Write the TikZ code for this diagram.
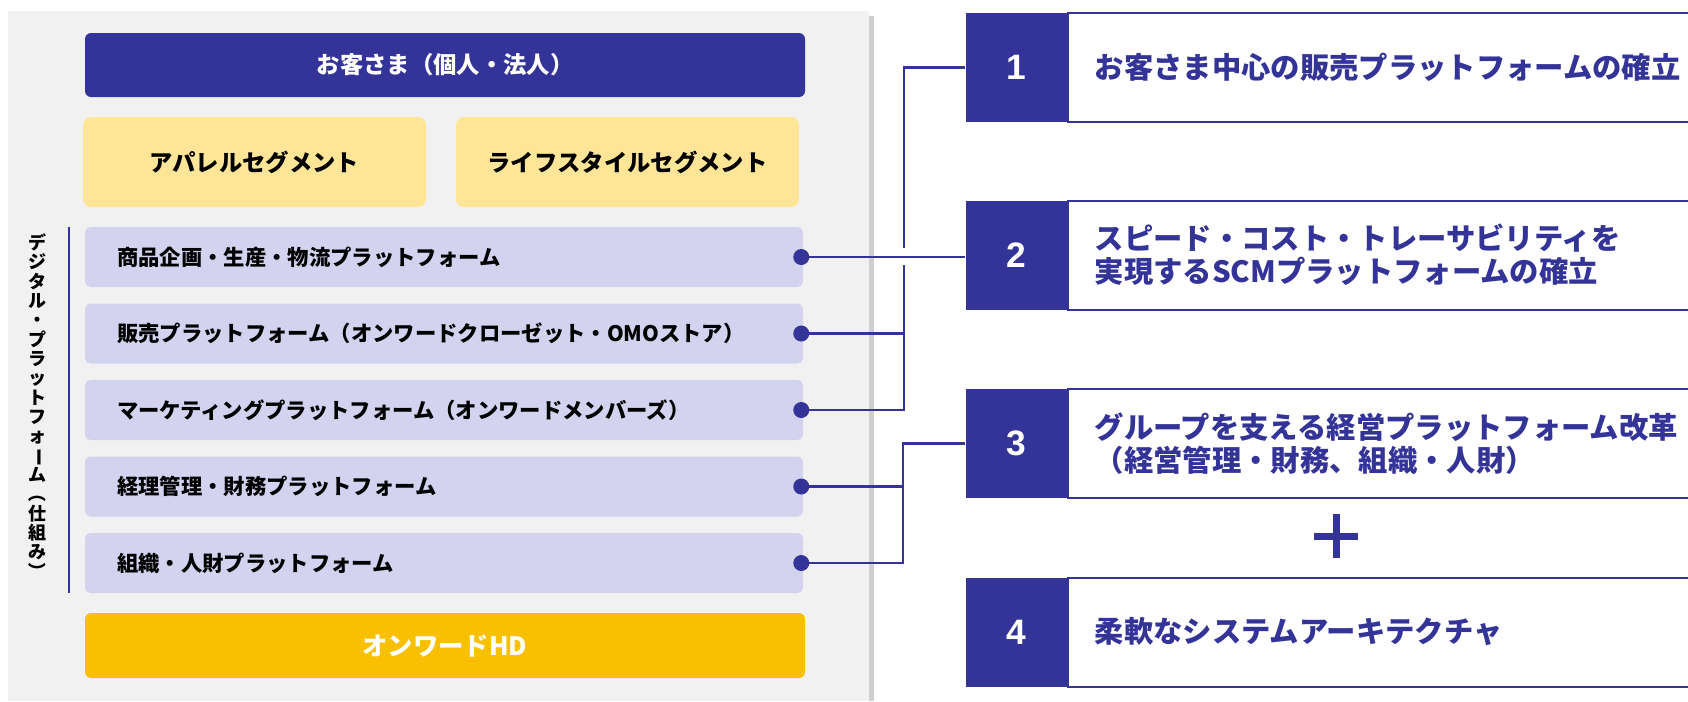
\documentclass[tikz,border=0pt]{standalone}
\usepackage{fontspec}
\setmainfont{Noto Sans CJK JP}
\newfontfamily\numfont{Liberation Sans}
\definecolor{navy}{RGB}{52,51,151}
\definecolor{lav}{RGB}{211,211,240}
\definecolor{paleyel}{RGB}{255,229,151}
\definecolor{gold}{RGB}{248,192,0}
\definecolor{panel}{RGB}{241,241,241}
\definecolor{stripe}{RGB}{207,207,207}
\tikzset{
  pf/.style={fill=lav, rounded corners=4pt, text width=490.5pt, inner xsep=24pt, inner ysep=0pt, minimum height=45pt, align=left, font=\fontsize{16}{18}\selectfont\bfseries},
  seg/.style={fill=paleyel, rounded corners=6pt, minimum width=257.25pt, minimum height=67.5pt, font=\fontsize{17.5}{20}\selectfont\bfseries},
  numbox/.style={fill=navy, text=white, minimum width=75.75pt, minimum height=81.75pt, inner sep=0pt, font=\numfont\fontsize{26.5}{30}\selectfont\bfseries},
  goal/.style={draw=navy, line width=1.5pt, minimum height=81.75pt, text width=480pt, inner xsep=20pt, align=left, text=navy, font=\fontsize{22}{25}\selectfont\bfseries},
  conn/.style={navy, line width=1.7pt},
}
\begin{document}
\begin{tikzpicture}[x=0.75pt,y=-0.75pt]
\useasboundingbox (0,0) rectangle (1688,701);
\fill[panel] (8,11) rectangle (869,701);
\fill[stripe] (869,16) rectangle (874,701);
\node[fill=navy, rounded corners=4.5pt, minimum width=540pt, minimum height=48pt, text=white, font=\fontsize{17.5}{20}\selectfont\bfseries] (cust) at (445,65) {お客さま（個人・法人）};
\node[seg] (apparel) at (254.5,162) {アパレルセグメント};
\node[seg] (life) at (627.5,162) {ライフスタイルセグメント};
\foreach \t [count=\i] in {商品企画・生産・物流プラットフォーム, 販売プラットフォーム（オンワードクローゼット・OMOストア）, マーケティングプラットフォーム（オンワードメンバーズ）, 経理管理・財務プラットフォーム, 組織・人財プラットフォーム}
  \node[pf] (p\i) at (444,180.5+76.5*\i) {\t};
\node[fill=gold, rounded corners=4.5pt, minimum width=540pt, minimum height=48.75pt, text=white, font=\fontsize{19}{20}\selectfont\bfseries] (hd) at (445,645.5) {オンワードHD};
\node[align=center, inner sep=0pt, font=\fontsize{13.5}{14.5}\selectfont\bfseries] (vlab) at (37,407) {デ\\ジ\\タ\\ル\\・\\プ\\ラ\\ッ\\ト\\フ\\ォ\\\rotatebox[origin=c]{-90}{ー}\\ム\\\rotatebox[origin=c]{-90}{（}\\仕\\組\\み\\\rotatebox[origin=c]{-90}{）}};
\draw[navy, line width=1.5pt] (69,227) -- (69,593);
\foreach \y/\t [count=\i] in {67.5/{お客さま中心の販売プラットフォームの確立}, 255/{スピード・コスト・トレーサビリティを\\実現するSCMプラットフォームの確立}, 443.5/{グループを支える経営プラットフォーム改革\\（経営管理・財務、組織・人財）}, 632/{柔軟なシステムアーキテクチャ}}
{
  \node[goal, anchor=west] (g\i) at (1067,\y) {\t};
  \node[numbox, anchor=east] (n\i) at (g\i.west) {\i};
}
\draw[navy, line width=5.25pt] (1314,536) -- (1358,536) (1336,514) -- (1336,558);
\coordinate (j1) at (904,67.5);
\coordinate (j2) at (903,443.5);
\draw[conn] (p1.east) -- (p1.east -| n2.west);
\draw[conn] (n1.west) -- (j1) -- (904,248);
\draw[conn] (904,265) |- (p3.east);
\draw[conn] (p2.east) -- (p2.east -| j1);
\draw[conn] (n3.west) -- (j2) |- (p5.east);
\draw[conn] (p4.east) -- (p4.east -| j2);
\foreach \i in {1,...,5} \fill[navy] ([xshift=-1.5pt]p\i.east) circle (6pt);
\end{tikzpicture}
\end{document}
